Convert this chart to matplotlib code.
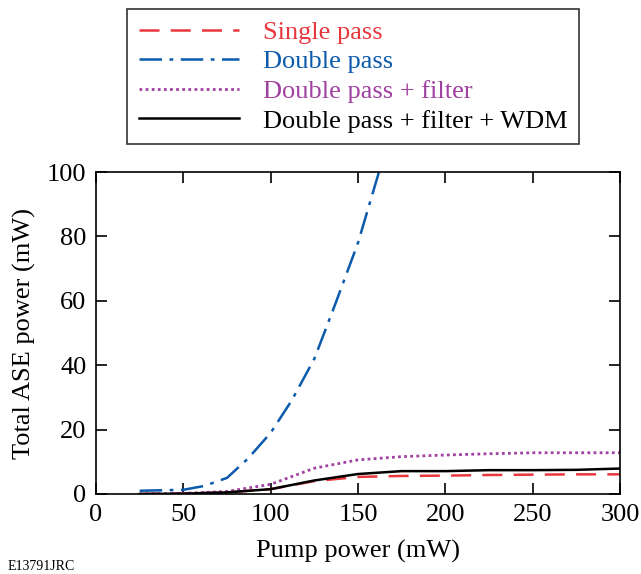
import matplotlib.pyplot as plt

# pump power (mW) and total ASE power (mW)
single_x = [25, 50, 75, 100, 125, 150, 175, 200, 225, 250, 275, 300]
single_y = [0.0, 0.2, 0.5, 1.5, 4.0, 5.3, 5.6, 5.7, 5.9, 6.0, 6.1, 6.1]

double_x = [25, 50, 62, 75, 87, 100, 112, 125, 137, 150, 162]
double_y = [1.0, 1.3, 2.5, 5.0, 11.0, 19.0, 29.0, 42.0, 59.0, 78.0, 100.0]

filt_x = [25, 50, 75, 100, 125, 150, 175, 200, 225, 250, 275, 300]
filt_y = [0.0, 0.2, 0.8, 3.0, 8.0, 10.6, 11.6, 12.1, 12.5, 12.8, 12.8, 12.8]

wdm_x = [25, 50, 75, 100, 125, 150, 175, 200, 225, 250, 275, 300]
wdm_y = [0.0, 0.1, 0.5, 1.5, 4.2, 6.2, 7.1, 7.1, 7.4, 7.4, 7.5, 7.9]

red = '#e8383d'
blue = '#0b5aab'
purple = '#a040a0'

plt.rcParams['font.family'] = 'Liberation Serif'
fs = 19

fig = plt.figure(figsize=(6.41, 5.74), dpi=100)
ax = fig.add_axes([0.1498, 0.1394, 0.8174, 0.5609])

l1, = ax.plot(single_x, single_y, color=red, linestyle=(0, (8, 4.5)), linewidth=1.8, label='Single pass')
l2, = ax.plot(double_x, double_y, color=blue, linestyle=(0, (9, 3, 1.5, 3)), linewidth=1.8, label='Double pass')
l3, = ax.plot(filt_x, filt_y, color=purple, linestyle=(0, (1, 1.2)), linewidth=2.0, label='Double pass + filter')
l4, = ax.plot(wdm_x, wdm_y, color='black', linestyle='-', linewidth=1.8, label='Double pass + filter + WDM')

ax.set_xlim(0, 300)
ax.set_ylim(0, 100)
ax.set_xticks([0, 50, 100, 150, 200, 250, 300])
ax.set_yticks([0, 20, 40, 60, 80, 100])
ax.tick_params(direction='in', length=8, width=1.2, labelsize=fs, top=True, right=True, pad=7)
for s in ax.spines.values():
    s.set_linewidth(1.2)
ax.set_xlabel('Pump power (mW)', fontsize=fs, labelpad=10)
ax.set_ylabel('Total ASE power (mW)', fontsize=fs, labelpad=8)

leg = fig.legend(handles=[l1, l2, l3, l4], loc='upper left', bbox_to_anchor=(0.198, 0.985),
                 fontsize=fs, frameon=True, fancybox=False, edgecolor='black',
                 handlelength=3.8, handletextpad=0.9, labelspacing=0.23, borderpad=0.45,
                 borderaxespad=0)
leg.get_frame().set_linewidth(1.2)
for txt, c in zip(leg.get_texts(), [red, blue, purple, 'black']):
    txt.set_color(c)

fig.text(0.012, 0.002, 'E13791JRC', fontsize=10, ha='left', va='bottom')

fig.savefig('out.png', dpi=100)
